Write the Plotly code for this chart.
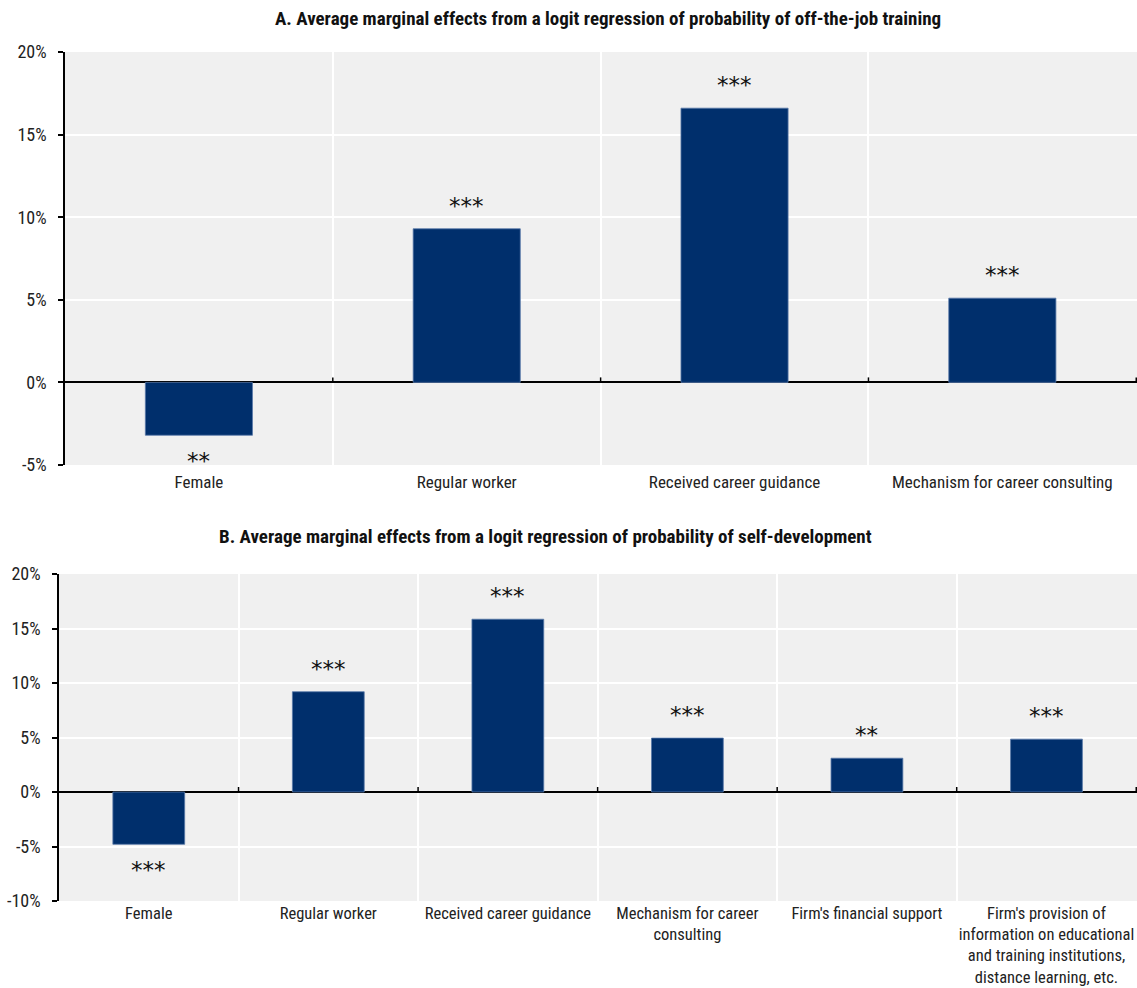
import plotly.graph_objects as go

# Panel A: off-the-job training
cats_a = ["Female", "Regular worker", "Received career guidance", "Mechanism for career consulting"]
vals_a = [-3.2, 9.3, 16.6, 5.1]
sig_a = ["**", "***", "***", "***"]
ticks_a = [-5, 0, 5, 10, 15, 20]
ticklabels_a = ["-5%", "0%", "5%", "10%", "15%", "20%"]

# Panel B: self-development
cats_b = ["Female", "Regular worker", "Received career guidance",
          "Mechanism for career<br>consulting", "Firm's financial support",
          "Firm's provision of<br>information on educational<br>and training institutions,<br>distance learning, etc."]
vals_b = [-4.8, 9.2, 15.85, 4.95, 3.1, 4.85]
sig_b = ["***", "***", "***", "***", "**", "***"]
ticks_b = [-10, -5, 0, 5, 10, 15, 20]
ticklabels_b = ["-10%", "-5%", "0%", "5%", "10%", "15%", "20%"]

title_a = "A. Average marginal effects from a logit regression of probability of off-the-job training"
title_b = "B. Average marginal effects from a logit regression of probability of self-development"

W, H = 1137, 988
BAR = "#002F6C"
BG = "#F0F0F0"
FONT = "Liberation Sans Narrow, Arial Narrow, Roboto Condensed, Liberation Sans, sans-serif"
STAR_FONT = "DejaVu Sans"

fig = go.Figure()
fig.add_trace(go.Bar(x=cats_a, y=vals_a, marker=dict(color=BAR, line=dict(color="#5878a8", width=0.8)),
                     xaxis="x", yaxis="y", width=0.4, hoverinfo="skip"))
fig.add_trace(go.Bar(x=cats_b, y=vals_b, marker=dict(color=BAR, line=dict(color="#5878a8", width=0.8)),
                     xaxis="x2", yaxis="y2", width=0.4, hoverinfo="skip"))


def px_x(p):
    return p / W


def px_y(p):
    return 1 - p / H


xaxis_common = dict(
    type="category", tickson="boundaries", ticks="", ticklen=0, tickangle=0,
    showline=False, zeroline=False, automargin=False,
    showgrid=True, gridcolor="white", gridwidth=1.5,
)
yaxis_common = dict(
    tickmode="array", ticks="outside", ticklen=5, tickcolor="black", tickwidth=1.5,
    showline=True, linecolor="black", linewidth=1.5,
    zeroline=True, zerolinecolor="black", zerolinewidth=1.5,
    showgrid=True, gridcolor="white", gridwidth=1.5, automargin=False,
    tickfont=dict(family=FONT, size=18, color="#222"),
    ticklabelstandoff=8,
)

fig.update_layout(
    width=W, height=H,
    margin=dict(l=0, r=0, t=0, b=0),
    paper_bgcolor="white", plot_bgcolor=BG,
    showlegend=False, bargap=0.6,
    font=dict(family=FONT, size=17, color="#222"),
    xaxis=dict(domain=[px_x(65), 1], anchor="y", ticklabelstandoff=5,
               tickfont=dict(family=FONT, size=17, color="#222"), **xaxis_common),
    yaxis=dict(domain=[px_y(465), px_y(52)], anchor="x", range=[-5, 20],
               tickvals=ticks_a, ticktext=ticklabels_a, **yaxis_common),
    xaxis2=dict(domain=[px_x(59), 1], anchor="y2", ticklabelstandoff=0,
                tickfont=dict(family=FONT, size=16.5, color="#222"), **xaxis_common),
    yaxis2=dict(domain=[px_y(901), px_y(574)], anchor="x2", range=[-10, 20],
                tickvals=ticks_b, ticktext=ticklabels_b, **yaxis_common),
)

# Small boundary ticks on the zero line
for i in range(1, len(cats_a) + 1):
    fig.add_shape(type="line", xref="x", yref="y", x0=i - 0.5, x1=i - 0.5,
                  ysizemode="pixel", yanchor=0, y0=0, y1=5,
                  line=dict(color="black", width=1.5))
for i in range(1, len(cats_b) + 1):
    fig.add_shape(type="line", xref="x2", yref="y2", x0=i - 0.5, x1=i - 0.5,
                  ysizemode="pixel", yanchor=0, y0=0, y1=5,
                  line=dict(color="black", width=1.5))

# Significance stars
for xr, yr, cats, vals, sigs in [("x", "y", cats_a, vals_a, sig_a), ("x2", "y2", cats_b, vals_b, sig_b)]:
    for c, v, s in zip(cats, vals, sigs):
        fig.add_annotation(x=c, y=v, xref=xr, yref=yr, text=s, showarrow=False,
                           font=dict(family=STAR_FONT, size=23, color="#111"),
                           yanchor="bottom" if v >= 0 else "top",
                           yshift=8 if v >= 0 else -11)

# Panel titles
fig.add_annotation(x=px_x(608), y=px_y(18), xref="paper", yref="paper", text="<b>" + title_a + "</b>",
                   showarrow=False, font=dict(family=FONT, size=19, color="#111"),
                   xanchor="center", yanchor="middle")
fig.add_annotation(x=px_x(545), y=px_y(536), xref="paper", yref="paper", text="<b>" + title_b + "</b>",
                   showarrow=False, font=dict(family=FONT, size=19, color="#111"),
                   xanchor="center", yanchor="middle")

fig.write_html("out.html")
